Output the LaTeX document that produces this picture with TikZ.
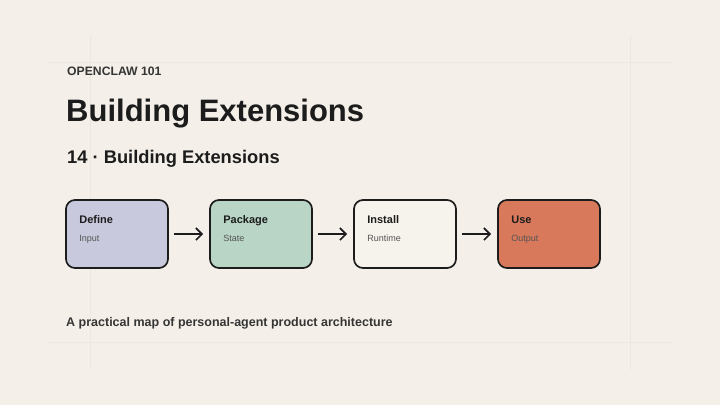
\documentclass[tikz,border=0pt]{standalone}
\usepackage{fontspec}
\setmainfont{Liberation Sans}
\usetikzlibrary{arrows.meta,calc}
\definecolor{bg}{HTML}{F4F0E9}
\definecolor{gridc}{HTML}{ECE7DF}
\definecolor{ink}{HTML}{1C1C1C}
\definecolor{inksoft}{HTML}{353535}
\definecolor{subc}{HTML}{555555}
\definecolor{cdefine}{HTML}{C9C9DD}
\definecolor{cpackage}{HTML}{B9D5C6}
\definecolor{cinstall}{HTML}{F6F2EC}
\definecolor{cuse}{HTML}{D9795B}
\tikzset{
  stagebox/.style={draw=ink, line width=1.7pt, rounded corners=9pt, minimum width=102pt, minimum height=68pt, inner sep=0pt},
  boxtitle/.style={anchor=base west, inner sep=0pt, font=\bfseries\fontsize{11}{13}\selectfont, text=ink},
  boxsub/.style={anchor=base west, inner sep=0pt, font=\fontsize{9}{11}\selectfont, text=subc},
  flow/.style={draw=ink, line width=1.7pt, -{Straight Barb[length=6pt,width=12pt,line width=1.7pt]}, shorten <=5pt, shorten >=6pt},
  gridline/.style={draw=gridc, line width=0.8pt}
}
\begin{document}
\begin{tikzpicture}[x=1pt,y=-1pt]
\fill[bg] (0,0) rectangle (720,405);
\useasboundingbox (0,0) rectangle (720,405);
% faint guide grid
\coordinate (g1) at (90,35); \coordinate (g2) at (90,370);
\coordinate (g3) at (630,35); \coordinate (g4) at (630,370);
\coordinate (h1) at (48,62); \coordinate (h2) at (672,62);
\coordinate (h3) at (48,342); \coordinate (h4) at (672,342);
\draw[gridline] (g1) -- (g2);
\draw[gridline] (g3) -- (g4);
\draw[gridline] (h1) -- (h2);
\draw[gridline] (h3) -- (h4);
% header texts
\node[anchor=base west, inner sep=0pt, text=inksoft, font=\bfseries\fontsize{12.2}{14}\selectfont] (kicker) at (67,75) {OPENCLAW 101};
\node[anchor=base west, inner sep=0pt, text=ink, font=\bfseries\fontsize{31}{36}\selectfont] (title) at (66,121) {Building Extensions};
\node[anchor=base west, inner sep=0pt, text=ink, font=\bfseries\fontsize{18.3}{22}\selectfont] (subtitle) at (67,163) {14 · Building Extensions};
% stages
\node[stagebox, fill=cdefine] (define) at (117,234) {};
\node[stagebox, fill=cpackage] (package) at (261,234) {};
\node[stagebox, fill=cinstall] (install) at (405,234) {};
\node[stagebox, fill=cuse] (use) at (549,234) {};
\node[boxtitle] (defineT) at ($(define.north west)+(14,24)$) {Define};
\node[boxsub] (defineS) at ($(define.north west)+(14,42)$) {Input};
\node[boxtitle] (packageT) at ($(package.north west)+(14,24)$) {Package};
\node[boxsub] (packageS) at ($(package.north west)+(14,42)$) {State};
\node[boxtitle] (installT) at ($(install.north west)+(14,24)$) {Install};
\node[boxsub] (installS) at ($(install.north west)+(14,42)$) {Runtime};
\node[boxtitle] (useT) at ($(use.north west)+(14,24)$) {Use};
\node[boxsub] (useS) at ($(use.north west)+(14,42)$) {Output};
\draw[flow] (define) -- (package);
\draw[flow] (package) -- (install);
\draw[flow] (install) -- (use);
% footer
\node[anchor=base west, inner sep=0pt, text=inksoft, font=\bfseries\fontsize{12.5}{15}\selectfont] (footer) at (66,326) {A practical map of personal-agent product architecture};
\end{tikzpicture}
\end{document}
